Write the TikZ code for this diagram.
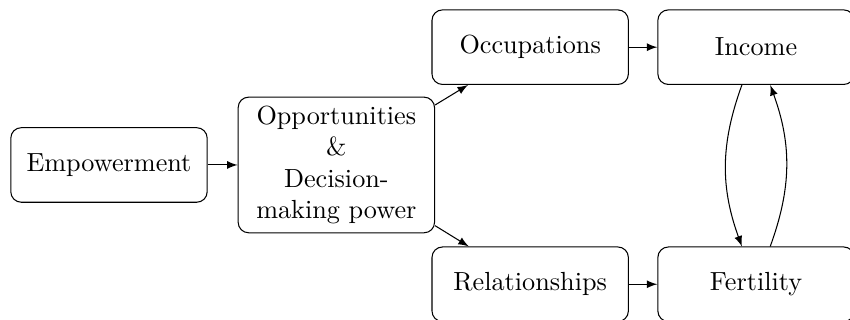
\documentclass[tikz,border=0pt]{standalone}
\usepackage{tikz}
\usetikzlibrary{arrows}
\usetikzlibrary{calc}

\begin{document}
\begin{tikzpicture}[box/.style={draw, rounded corners, align=center, text width=2.4cm, minimum height=1cm}]
            \useasboundingbox (-1.462,-2.079) rectangle (9.94,2.213);

            \node[box] (emp) at (0,0) {Empowerment};
            \node[box] (opp) at (3.05,0) {Opportunities\\ \&\\ Decision-\\ making power};
            
            % Upper row
            \node[box] (occ) at (5.65,1.58) {Occupations};
            \node[box] (inc) at (8.68,1.58) {Income};
            
            % Lower row
            \node[box] (rel) at (5.65,-1.6) {Relationships};
            \node[box] (fer) at (8.68,-1.6) {Fertility};
            
            \draw[-latex] (emp) -- (opp);
            \draw[-latex] (opp) -- (occ);
            \draw[-latex] (opp) -- (rel);
            \draw[-latex] (occ) -- (inc);
            \draw[-latex] (rel) -- (fer);
            
            % Feedback between income and fertility
            \draw[-latex] ([xshift=-0.19cm]inc.south) to[bend right=20] ([xshift=-0.19cm]fer.north);
            \draw[-latex] ([xshift=0.19cm]fer.north) to[bend right=20] ([xshift=0.19cm]inc.south);
        \end{tikzpicture}
\end{document}
